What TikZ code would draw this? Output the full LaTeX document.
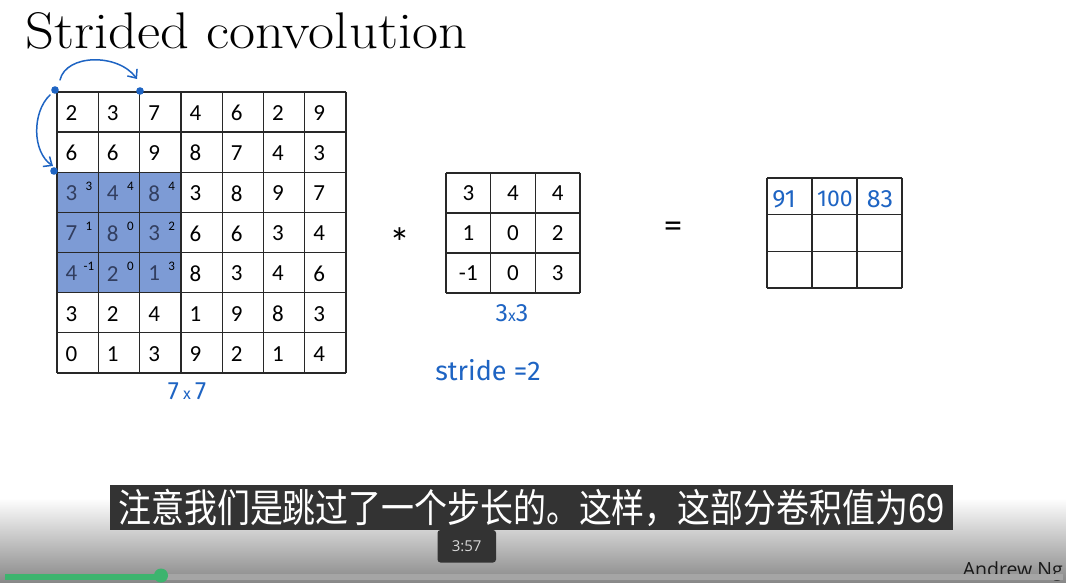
\documentclass[tikz,border=0pt]{standalone}
\usepackage{fontspec}
\usepackage{graphicx}
\newfontfamily\calfnt{Carlito}
\newfontfamily\handfnt{Fira Sans}
\newfontfamily\cjkfnt{Noto Sans CJK SC}
\newfontfamily\uifnt{Open Sans}
\usetikzlibrary{arrows.meta}
\definecolor{gridline}{RGB}{40,40,40}
\definecolor{bluefill}{RGB}{125,155,213}
\definecolor{bluedigit}{RGB}{50,62,95}
\definecolor{handblue}{RGB}{30,100,195}
\definecolor{subbg}{RGB}{51,51,51}
\definecolor{bargreen}{RGB}{60,180,110}
\definecolor{trackgray}{RGB}{165,165,165}
\tikzset{
  gl/.style={draw=gridline, line width=1.3pt},
  num/.style={inner sep=0pt, font=\calfnt\fontsize{23}{27}\selectfont},
  supnum/.style={inner sep=0pt, font=\calfnt\fontsize{13}{15}\selectfont, text=black},
  handtxt/.style={inner sep=0pt, text=handblue, font=\handfnt\fontsize{25}{29}\selectfont},
  handline/.style={draw=handblue, line width=1.5pt, line cap=round},
  dotmark/.style={fill=handblue},
}
\begin{document}
\begin{tikzpicture}[x=1pt,y=-1pt]
\useasboundingbox (0,0) rectangle (1066,583);
\fill[white] (0,0) rectangle (1066,583);

% title
\node[anchor=base west, inner sep=0pt] (title) at (25,48.5) {\scalebox{1.1}[1]{\fontsize{51.5}{60}\selectfont Strided convolution}};

% ---------- 7x7 input ----------
\fill[bluefill] (57,172.3) rectangle (180.9,292.7);
\foreach \i in {0,...,7} {
  \draw[gl] ({57+\i*41.3},92) -- ({57+\i*41.3},373);
  \draw[gl] (57,{92+\i*40.14}) -- (346.1,{92+\i*40.14});
}
\foreach \row [count=\r] in {{2,3,7,4,6,2,9},{6,6,9,8,7,4,3},{3,4,8,3,8,9,7},{7,8,3,6,6,3,4},{4,2,1,8,3,4,6},{3,2,4,1,9,8,3},{0,1,3,9,2,1,4}} {
  \foreach \v [count=\c] in \row {
    \pgfmathtruncatemacro\isblue{and(and(\r>2,\r<6),\c<4)}
    \ifnum\isblue=1 \def\tc{bluedigit}\else\def\tc{black}\fi
    \node[num, text=\tc] (m-\r-\c) at ({57+(\c-1)*41.3+14.5},{92+(\r-1)*40.14+21}) {\v};
  }
}
\foreach \row [count=\r] in {{3,4,4},{1,0,2},{-1,0,3}} {
  \foreach \v [count=\c] in \row {
    \node[supnum] (k-\r-\c) at ({57+(\c-1)*41.3+32},{172.3+(\r-1)*40.14+14}) {\v};
  }
}
\node[handtxt] (lab7) at (187,391) {7\,{\fontsize{16}{18}\selectfont x}\,7};

% stride arrows
\coordinate (dA) at (55,90);
\coordinate (dB) at (140,91);
\coordinate (dC) at (54,171);
\fill[dotmark] (dA) circle (3.8);
\fill[dotmark] (dB) circle (3.8);
\fill[dotmark] (dC) circle (3.8);
\coordinate (a1s) at (60,80);
\coordinate (a1e) at (137,79);
\coordinate (a2s) at (50,95);
\coordinate (a2e) at (53,166);
\draw[handline, -{Straight Barb[length=7pt,width=12pt]}] (a1s) .. controls (66,54) and (118,53) .. (a1e);
\draw[handline, -{Straight Barb[length=7pt,width=12pt]}] (a2s) .. controls (32,112) and (32,152) .. (a2e);

% ---------- operator ----------
\node[inner sep=0pt, font=\calfnt\fontsize{42}{46}\selectfont] (star) at (400,243) {*};

% ---------- 3x3 filter ----------
\foreach \i in {0,...,3} {
  \draw[gl] ({446+\i*44.67},173) -- ({446+\i*44.67},293);
  \draw[gl] (446,{173+\i*40}) -- (580,{173+\i*40});
}
\foreach \row [count=\r] in {{3,4,4},{1,0,2},{-1,0,3}} {
  \foreach \v [count=\c] in \row {
    \node[num] (f-\r-\c) at ({446+(\c-0.5)*44.67},{173+(\r-0.5)*40}) {\v};
  }
}
\node[handtxt] (lab3) at (512,313) {3{\fontsize{16}{18}\selectfont x}3};
\node[handtxt, font=\handfnt\fontsize{27}{30}\selectfont] (stride) at (488,370) {stride =2};

% ---------- equals ----------
\node[inner sep=0pt, font=\calfnt\fontsize{36}{40}\selectfont] (eq) at (673,230) {=};

% ---------- output ----------
\foreach \i in {0,...,3} {
  \draw[gl] ({767+\i*45},178) -- ({767+\i*45},288);
  \draw[gl] (767,{178+\i*36.67}) -- (902,{178+\i*36.67});
}
\node[handtxt, font=\handfnt\fontsize{25}{28}\selectfont] (o1) at (784,199) {91};
\node[handtxt, font=\handfnt\fontsize{23}{28}\selectfont] (o2) at (835,199) {100};
\node[handtxt, font=\handfnt\fontsize{25}{28}\selectfont] (o3) at (880,199) {83};

% ---------- video chrome ----------
\shade[top color=white, bottom color={rgb,255:red,135;green,135;blue,135}] (0,498) rectangle (1066,583);
\fill[subbg] (110,485) rectangle (953,530);
\node[inner sep=0pt, text=white, font=\cjkfnt\fontsize{35}{40}\selectfont] (sub) at (531.5,507.5) {\scalebox{0.94}[1.12]{注意我们是跳过了一个步长的。这样，这部分卷积值为69}};
\fill[subbg, rounded corners=3pt] (437.5,530) rectangle (496,562.5);
\node[inner sep=0pt, text={rgb,255:red,215;green,215;blue,215}, font=\uifnt\fontsize{15}{18}\selectfont] (time) at (466.7,546.5) {3:57};
\node[anchor=base east, inner sep=0pt, text={rgb,255:red,25;green,25;blue,25}, font=\uifnt\fontsize{19.5}{22}\selectfont] (author) at (1063,576) {Andrew Ng};
\fill[trackgray] (5,574) rectangle (1063,580);
\fill[bargreen] (5,574) rectangle (161,580);
\fill[bargreen] (161,575.5) circle (7);
\end{tikzpicture}
\end{document}
